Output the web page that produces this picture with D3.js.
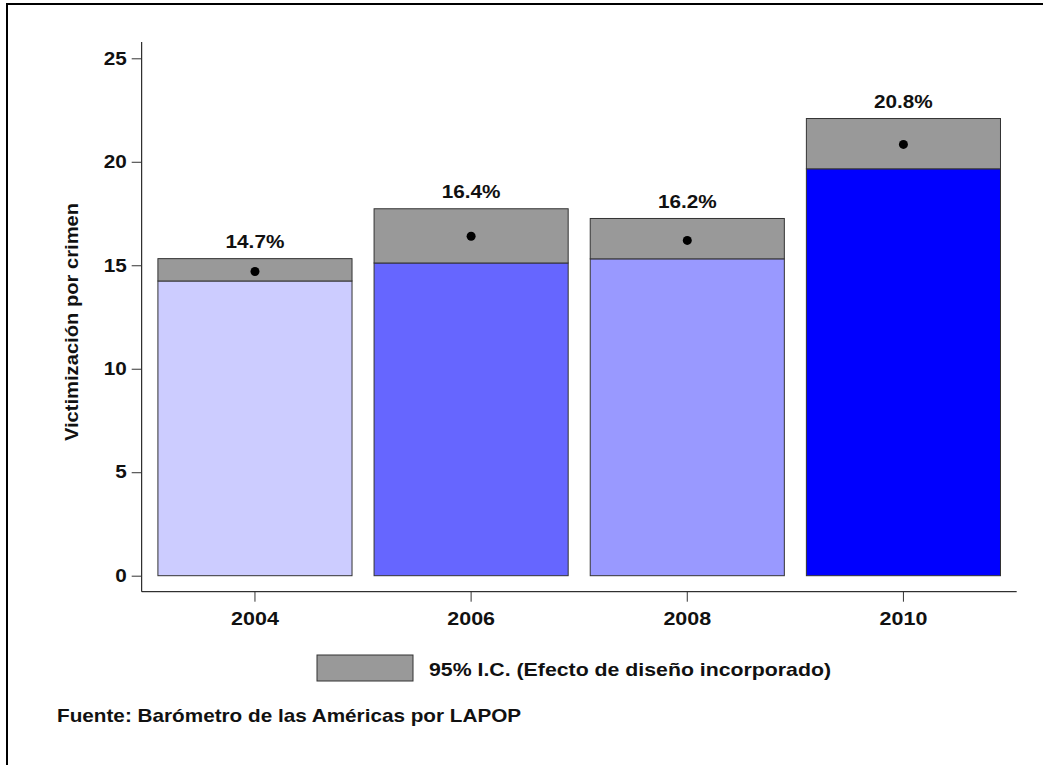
<!DOCTYPE html>
<html><head><meta charset="utf-8">
<script src="https://cdn.jsdelivr.net/npm/d3@7"></script>
<style>body{margin:0;background:#fff}svg{display:block;font-family:"Liberation Sans",Arial,sans-serif;font-weight:bold}</style>
</head><body><svg id="c" width="1043" height="765"></svg>
<script>
const years = ["2004","2006","2008","2010"];
const means = [14.7, 16.4, 16.2, 20.84];
const lower = [14.24, 15.11, 15.31, 19.66];
const upper = [15.32, 17.73, 17.26, 22.09];
const labels = ["14.7%","16.4%","16.2%","20.8%"];
const colors = ["#ccccff","#6666ff","#9999ff","#0000ff"];
const yTicks = [0,5,10,15,20,25];
const yTitle = "Victimización por crimen";
const legendText = "95% I.C. (Efecto de diseño incorporado)";
const sourceText = "Fuente: Barómetro de las Américas por LAPOP";

const STRETCH = 1.12;
function stretch(sel, k){
  sel.each(function(){
    const len = this.getComputedTextLength();
    d3.select(this).attr("textLength", len*(k||STRETCH)).attr("lengthAdjust","spacingAndGlyphs");
  });
}

const svg = d3.select("#c");
svg.append("rect").attr("x",7).attr("y",4).attr("width",1060).attr("height",800)
  .attr("fill","none").attr("stroke","#000").attr("stroke-width",2);

const x0 = 141.7, x1 = 1016.7;
const y = d3.scaleLinear().domain([0,25]).range([575.7,58.3]);
const x = d3.scaleBand().domain(years).range([x0,x1]).paddingInner(0.102).paddingOuter(0.075);

const g = svg.append("g");
years.forEach((yr,i)=>{
  g.append("rect").attr("x",x(yr)).attr("width",x.bandwidth())
    .attr("y",y(lower[i])).attr("height",y(0)-y(lower[i]))
    .attr("fill",colors[i]).attr("stroke","#333").attr("stroke-width",1);
  g.append("rect").attr("x",x(yr)).attr("width",x.bandwidth())
    .attr("y",y(upper[i])).attr("height",y(lower[i])-y(upper[i]))
    .attr("fill","#999999").attr("stroke","#333").attr("stroke-width",1);
  g.append("circle").attr("cx",x(yr)+x.bandwidth()/2).attr("cy",y(means[i])).attr("r",4.5).attr("fill","#000");
  const t = g.append("text").attr("x",x(yr)+x.bandwidth()/2).attr("y",y(upper[i])-10.7)
    .attr("text-anchor","middle").attr("font-size",18.5).attr("fill","#111").text(labels[i]);
  stretch(t);
});

const ya = svg.append("g").attr("transform",`translate(${x0},0)`)
  .call(d3.axisLeft(y).tickValues(yTicks).tickSize(10).tickPadding(5));
ya.select(".domain").attr("d",`M0,42V591.7`).attr("stroke","#000");
ya.selectAll("text").attr("font-size",18).attr("font-family","Liberation Sans, Arial, sans-serif").attr("font-weight","bold").attr("fill","#111");
stretch(ya.selectAll("text"), 1.15);
ya.selectAll(".tick line").attr("stroke","#333");

const xa = svg.append("g").attr("transform",`translate(0,591.7)`)
  .call(d3.axisBottom(x).tickSize(10).tickPadding(10));
xa.select(".domain").attr("d",`M${x0},0H${x1}`).attr("stroke","#000");
xa.selectAll("text").attr("font-size",19).attr("font-family","Liberation Sans, Arial, sans-serif").attr("font-weight","bold").attr("fill","#111");
stretch(xa.selectAll("text"), 1.13);
xa.selectAll(".tick line").attr("stroke","#333");

stretch(svg.append("text").attr("transform","translate(78,322) rotate(-90)")
  .attr("text-anchor","middle").attr("font-size",18).attr("fill","#111").text(yTitle));

svg.append("rect").attr("x",317).attr("y",655).attr("width",96).attr("height",26)
  .attr("fill","#999999").attr("stroke","#333").attr("stroke-width",1);
stretch(svg.append("text").attr("x",429).attr("y",676).attr("font-size",19).attr("fill","#111").text(legendText));
stretch(svg.append("text").attr("x",57).attr("y",722).attr("font-size",19).attr("fill","#111").text(sourceText), 1.09);
</script></body></html>
